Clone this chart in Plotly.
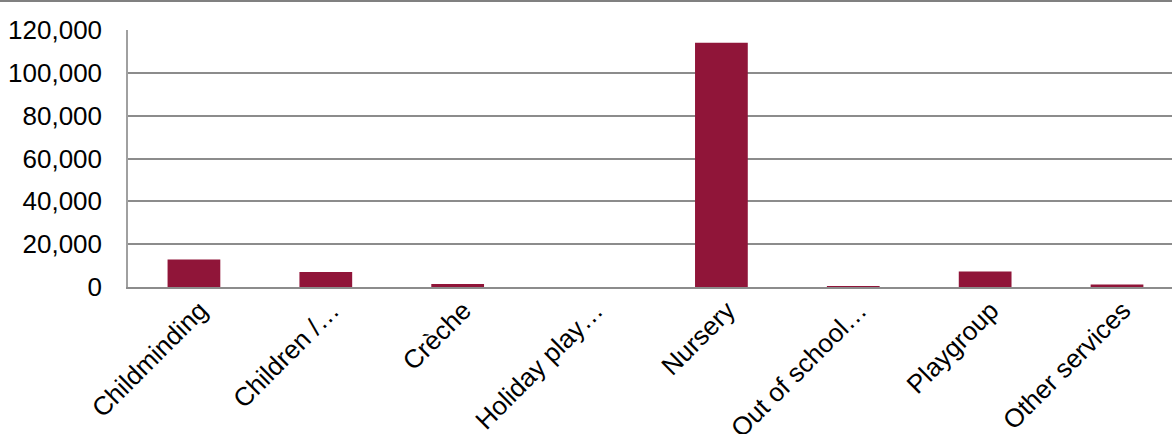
import plotly.graph_objects as go

# Registered places by type of childcare service
categories = [
    "Childminding",
    "Children /…",
    "Crèche",
    "Holiday play…",
    "Nursery",
    "Out of school…",
    "Playgroup",
    "Other services",
]
places = [12800, 7000, 1400, 0, 114000, 300, 7200, 1200]
y_ticks = [0, 20000, 40000, 60000, 80000, 100000, 120000]

BAR = "#901539"
GRID = "#8c8c8c"
FONT = "Liberation Sans, Arial, sans-serif"

fig = go.Figure(
    go.Bar(
        x=list(range(len(categories))),
        y=places,
        marker=dict(color=BAR, line=dict(width=0)),
        width=0.4,
    )
)

fig.update_layout(
    width=1172,
    height=434,
    margin=dict(l=128, r=0, t=30, b=147, autoexpand=False),
    paper_bgcolor="white",
    plot_bgcolor="white",
    showlegend=False,
    font=dict(family=FONT, size=26, color="#000000"),
    shapes=[
        # thin rule along the top edge
        dict(
            type="line",
            xref="paper",
            yref="paper",
            x0=-128 / 1044,
            x1=1,
            y0=1 + 29 / 257,
            y1=1 + 29 / 257,
            line=dict(color="#808080", width=2),
        ),
    ],
)

fig.update_xaxes(
    range=[-0.5, 7.417],
    tickmode="array",
    tickvals=list(range(len(categories))),
    ticktext=categories,
    tickangle=-45,
    tickfont=dict(family=FONT, size=26, color="#000000"),
    showgrid=False,
    zeroline=False,
    showline=True,
    linecolor=GRID,
    linewidth=2,
    ticks="",
    ticklabelshift=6,
    ticklabelstandoff=-4,
    automargin=False,
)

fig.update_yaxes(
    range=[0, 120000],
    tickmode="array",
    tickvals=y_ticks,
    ticktext=[f"{v:,}" for v in y_ticks],
    tickfont=dict(family=FONT, size=26, color="#000000"),
    showgrid=True,
    gridcolor=GRID,
    gridwidth=1.5,
    zeroline=False,
    showline=True,
    linecolor="#a0a0a0",
    linewidth=1.5,
    ticks="",
    ticklabelstandoff=19,
    automargin=False,
)

fig.write_html("out.html")
